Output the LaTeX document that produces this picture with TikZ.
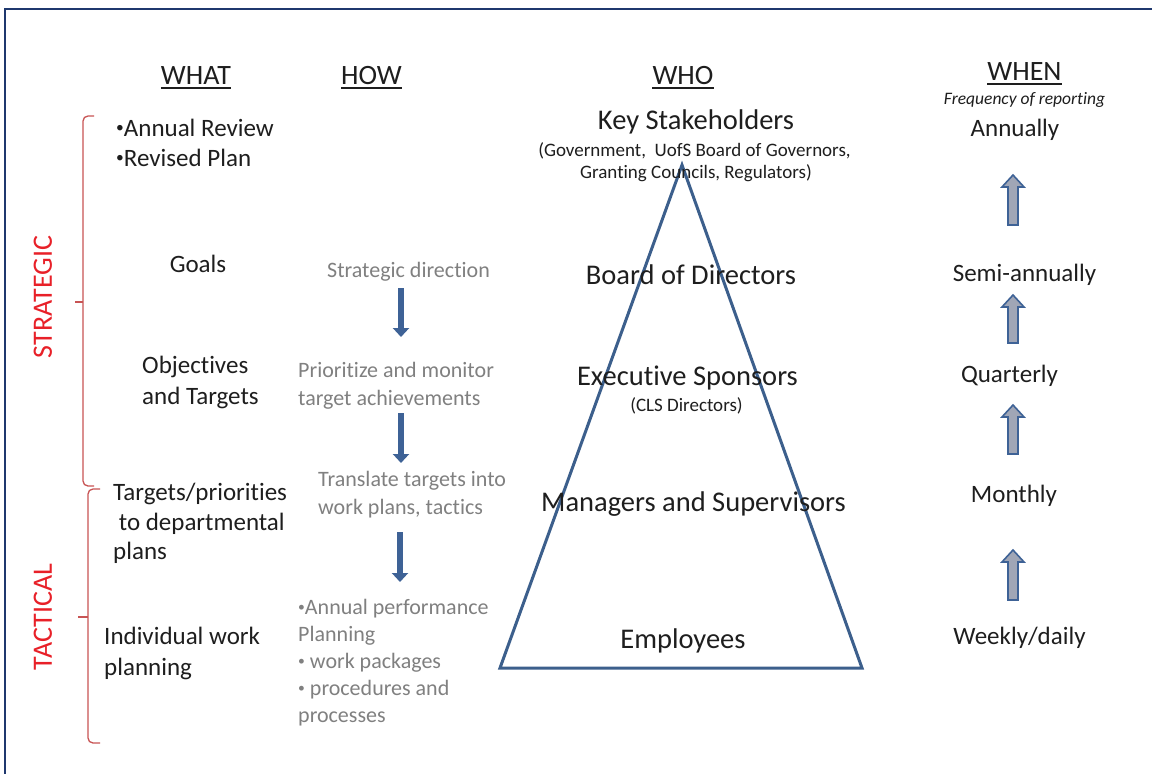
\documentclass[tikz,border=0pt]{standalone}
\usepackage{fontspec}
\setmainfont[Ligatures=NoCommon]{Carlito}
\usetikzlibrary{arrows.meta}

\definecolor{ink}{RGB}{30,30,30}
\definecolor{howgrey}{RGB}{128,128,128}
\definecolor{tierred}{RGB}{232,32,40}
\definecolor{bracketred}{RGB}{200,84,84}
\definecolor{pyramid}{RGB}{60,95,140}
\definecolor{frameblue}{RGB}{31,56,110}
\definecolor{arrowfill}{RGB}{160,166,182}
\definecolor{arrowline}{RGB}{62,98,150}

% small list bullet, raised to mid x-height
\newcommand{\lbul}{\raisebox{0.13em}{\fontsize{0.62em}{0.62em}\selectfont •}}

\tikzset{
  txt/.style={inner sep=0pt, text=ink, anchor=base},
  lft/.style={anchor=base west},
  head/.style={txt, font=\fontsize{28}{34}\selectfont},
  whattxt/.style={txt, font=\fontsize{25}{30}\selectfont},
  howtxt/.style={txt, text=howgrey, font=\fontsize{22}{27}\selectfont},
  whotxt/.style={txt, font=\fontsize{28.5}{34}\selectfont},
  whosub/.style={txt, font=\fontsize{19}{23}\selectfont},
  whentxt/.style={txt, font=\fontsize{25}{30}\selectfont},
  freqtxt/.style={txt, font=\fontsize{17.5}{21}\selectfont\itshape},
  tier/.style={inner sep=0pt, text=tierred, font=\fontsize{28}{34}\selectfont, rotate=90},
  uline/.style={ink, line width=2pt},
  bracket/.style={bracketred, line width=1.3pt, rounded corners=5pt},
  flowarrow/.style={arrowline, line width=6pt, -{Triangle[width=16pt,length=9pt]}},
  tri/.style={pyramid, line width=3pt, line join=miter},
  blockup/.style={draw=arrowline, line width=1.6pt, fill=arrowfill, line join=miter},
}

\begin{document}
\begin{tikzpicture}[x=1pt, y=-1pt]
\useasboundingbox (0,0) rectangle (1152,774);
\fill[white] (0,0) rectangle (1152,774);

% outer frame (top and left edges)
\draw[frameblue, line width=2pt] (5,774) -- (5,9) -- (1152,9);

% column headings
\node[head] (hwhat) at (196,84) {WHAT};
\node[head] (hhow)  at (371.5,84) {HOW};
\node[head] (hwho)  at (683,84) {WHO};
\node[head] (hwhen) at (1024.5,80) {WHEN};
\foreach \h in {hwhat,hhow,hwho,hwhen}
  \draw[uline] ([yshift=-4pt]\h.base west) -- ([yshift=-4pt]\h.base east);
\node[freqtxt] (freq) at (1024.5,104) {Frequency of reporting};

% tier labels and brackets
\node[tier] (strat) at (43,297) {STRATEGIC};
\node[tier] (tact)  at (43,617) {TACTICAL};
\draw[bracket] (94,116) -- (83,116) -- (83,486) -- (94,486);
\draw[bracketred, line width=1.3pt] (83,302) -- (75,302);
\draw[bracket] (100,489) -- (88,489) -- (88,743) -- (100,743);
\draw[bracketred, line width=1.3pt] (88,617) -- (78,617);

% WHAT column
\node[whattxt, lft] (w1a) at (116,136) {\lbul Annual Review};
\node[whattxt, lft] (w1b) at (116,166) {\lbul Revised Plan};
\node[whattxt] (w2) at (198,272) {Goals};
\node[whattxt, lft] (w3a) at (142,373) {Objectives};
\node[whattxt, lft] (w3b) at (142,404) {and Targets};
\node[whattxt, lft] (w4a) at (113,500) {Targets/priorities};
\node[whattxt, lft] (w4b) at (113,530) {\ to departmental};
\node[whattxt, lft] (w4c) at (113,559) {plans};
\node[whattxt, lft] (w5a) at (104,644) {Individual work};
\node[whattxt, lft] (w5b) at (104,675) {planning};

% HOW column
\node[howtxt] (h1) at (408.5,277) {Strategic direction};
\node[howtxt, lft] (h2a) at (298,377) {Prioritize and monitor};
\node[howtxt, lft] (h2b) at (298,405) {target achievements};
\node[howtxt, lft] (h3a) at (318,486) {Translate targets into};
\node[howtxt, lft] (h3b) at (318,514) {work plans, tactics};
\node[howtxt, lft] (h4a) at (298,614) {\lbul Annual performance};
\node[howtxt, lft] (h4b) at (298,641) {Planning};
\node[howtxt, lft] (h4c) at (298,668) {\lbul\ work packages};
\node[howtxt, lft] (h4d) at (298,695) {\lbul\ procedures and};
\node[howtxt, lft] (h4e) at (298,722) {processes};

\coordinate (a1s) at (401,288); \coordinate (a1e) at (401,337);
\coordinate (a2s) at (401,413); \coordinate (a2e) at (401,463);
\coordinate (a3s) at (400,532); \coordinate (a3e) at (400,582);
\draw[flowarrow] (a1s) -- (a1e);
\draw[flowarrow] (a2s) -- (a2e);
\draw[flowarrow] (a3s) -- (a3e);

% WHO column: pyramid
\coordinate (apex) at (682,165);
\coordinate (baseL) at (500,668);
\coordinate (baseR) at (862,668);
\draw[tri] (apex) -- (baseL) -- (baseR) -- cycle;

\node[whotxt] (k1) at (696,129) {Key Stakeholders};
\node[whosub] (k2) at (694.5,156) {(Government,\ \ UofS Board of Governors,};
\node[whosub] (k3) at (696,178) {Granting Councils, Regulators)};
\node[whotxt] (bod) at (691,284) {Board of Directors};
\node[whotxt] (exec) at (687.5,385) {Executive Sponsors};
\node[whosub] (cls) at (686.5,411) {(CLS Directors)};
\node[whotxt] (mgr) at (693.5,511) {Managers and Supervisors};
\node[whotxt] (emp) at (683,648) {Employees};

% WHEN column
\node[whentxt] (f1) at (1015,136) {Annually};
\node[whentxt] (f2) at (1024.5,281) {Semi-annually};
\node[whentxt] (f3) at (1009.5,382) {Quarterly};
\node[whentxt] (f4) at (1014,502) {Monthly};
\node[whentxt] (f5) at (1019.5,644) {Weekly/daily};

% block arrows rising towards less frequent reporting
\foreach \t/\b in {175/225, 295/343, 405/454, 550/600}{
  \filldraw[blockup] (1008,\b) -- (1008,\t+12) -- (1002,\t+12) -- (1013,\t)
     -- (1024,\t+12) -- (1018,\t+12) -- (1018,\b) -- cycle;
}
\end{tikzpicture}
\end{document}
